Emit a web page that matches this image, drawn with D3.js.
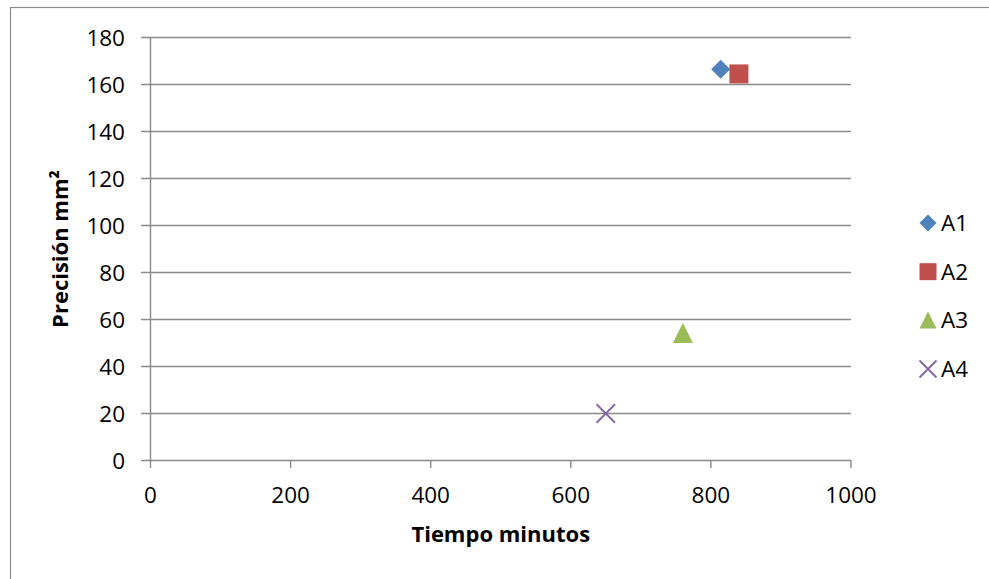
<!DOCTYPE html>
<html>
<head>
<meta charset="utf-8">
<script src="https://cdn.jsdelivr.net/npm/d3@7"></script>
<style>
  html, body { margin: 0; padding: 0; background: #fff; }
  svg { display: block; font-family: "Open Sans", "Liberation Sans", sans-serif; }
</style>
</head>
<body>
<svg id="chart" width="989" height="579"></svg>
<script>
// Series: time (minutes) vs precision (mm²)
const seriesNames = ["A1", "A2", "A3", "A4"];
const timeValues = [814, 840, 760, 650];
const precisionValues = [166.5, 164.5, 54, 20];
const seriesColors = ["#4F81BD", "#C0504D", "#9BBB59", "#8064A2"];
const seriesShapes = ["diamond", "square", "triangle", "cross"];

const xTicks = [0, 200, 400, 600, 800, 1000];
const yTicks = [0, 20, 40, 60, 80, 100, 120, 140, 160, 180];
const xTitle = "Tiempo minutos";
const yTitle = "Precisión mm²";

const svg = d3.select("#chart");
const gridColor = "#898989";

const x = d3.scaleLinear().domain([0, 1000]).range([150.5, 851]);
const y = d3.scaleLinear().domain([0, 180]).range([460.5, 37.5]);

// outer chart frame
svg.append("rect")
  .attr("x", 10.5).attr("y", 7.5)
  .attr("width", 1000).attr("height", 620)
  .attr("fill", "none")
  .attr("stroke", "#8c8c8c")
  .attr("stroke-width", 1.2);

// horizontal gridlines (with tick stubs on the left)
svg.append("g")
  .selectAll("line")
  .data(yTicks)
  .join("line")
  .attr("x1", 141).attr("x2", x(1000))
  .attr("y1", d => y(d)).attr("y2", d => y(d))
  .attr("stroke", gridColor)
  .attr("stroke-width", 1.4);

// y axis line
svg.append("line")
  .attr("x1", x(0)).attr("x2", x(0))
  .attr("y1", y(180)).attr("y2", y(0))
  .attr("stroke", gridColor).attr("stroke-width", 1.4);

// x tick marks
svg.append("g")
  .selectAll("line")
  .data(xTicks)
  .join("line")
  .attr("x1", d => x(d)).attr("x2", d => x(d))
  .attr("y1", y(0)).attr("y2", y(0) + 7.5)
  .attr("stroke", gridColor).attr("stroke-width", 1.4);

// y tick labels
svg.append("g")
  .selectAll("text")
  .data(yTicks)
  .join("text")
  .attr("x", 125)
  .attr("y", d => y(d))
  .attr("dy", "0.36em")
  .attr("text-anchor", "end")
  .attr("font-size", 22.5)
  .attr("fill", "#000")
  .text(d => d);

// x tick labels
svg.append("g")
  .selectAll("text")
  .data(xTicks)
  .join("text")
  .attr("x", d => x(d))
  .attr("y", y(0) + 42.5)
  .attr("text-anchor", "middle")
  .attr("font-size", 22.5)
  .attr("fill", "#000")
  .text(d => d);

// axis titles
svg.append("text")
  .attr("x", (x(0) + x(1000)) / 2)
  .attr("y", 542)
  .attr("text-anchor", "middle")
  .attr("font-size", 22)
  .attr("font-weight", "bold")
  .text(xTitle);

svg.append("text")
  .attr("transform", `translate(68,${(y(0) + y(180)) / 2}) rotate(-90)`)
  .attr("text-anchor", "middle")
  .attr("font-size", 22)
  .attr("font-weight", "bold")
  .text(yTitle);

// marker path for a given shape and size (size = full extent in px)
function markerPath(shape, s) {
  const r = s / 2;
  switch (shape) {
    case "diamond": return `M0,${-r}L${r},0L0,${r}L${-r},0Z`;
    case "square": return `M${-r},${-r}H${r}V${r}H${-r}Z`;
    case "triangle": return `M0,${-r * 1.05}L${r},${r * 0.95}L${-r},${r * 0.95}Z`;
    case "cross": return `M${-r},${-r}L${r},${r}M${r},${-r}L${-r},${r}`;
  }
}

function drawMarker(g, i, s) {
  const shape = seriesShapes[i];
  const p = g.append("path").attr("d", markerPath(shape, s));
  if (shape === "cross") {
    p.attr("fill", "none").attr("stroke", seriesColors[i]).attr("stroke-width", 1.8);
  } else {
    p.attr("fill", seriesColors[i]);
  }
}

// data points
const sizes = [19, 19, 20, 18.5];
seriesNames.forEach((name, i) => {
  const g = svg.append("g")
    .attr("transform", `translate(${x(timeValues[i])},${y(precisionValues[i])})`);
  drawMarker(g, i, sizes[i]);
});

// legend
const legendY = d3.scalePoint().domain(seriesNames).range([223, 369]);
seriesNames.forEach((name, i) => {
  const g = svg.append("g")
    .attr("transform", `translate(928,${legendY(name)})`);
  drawMarker(g, i, 17);
  g.append("text")
    .attr("x", 13)
    .attr("dy", "0.36em")
    .attr("font-size", 22.5)
    .attr("fill", "#000")
    .text(name);
});
</script>
</body>
</html>
